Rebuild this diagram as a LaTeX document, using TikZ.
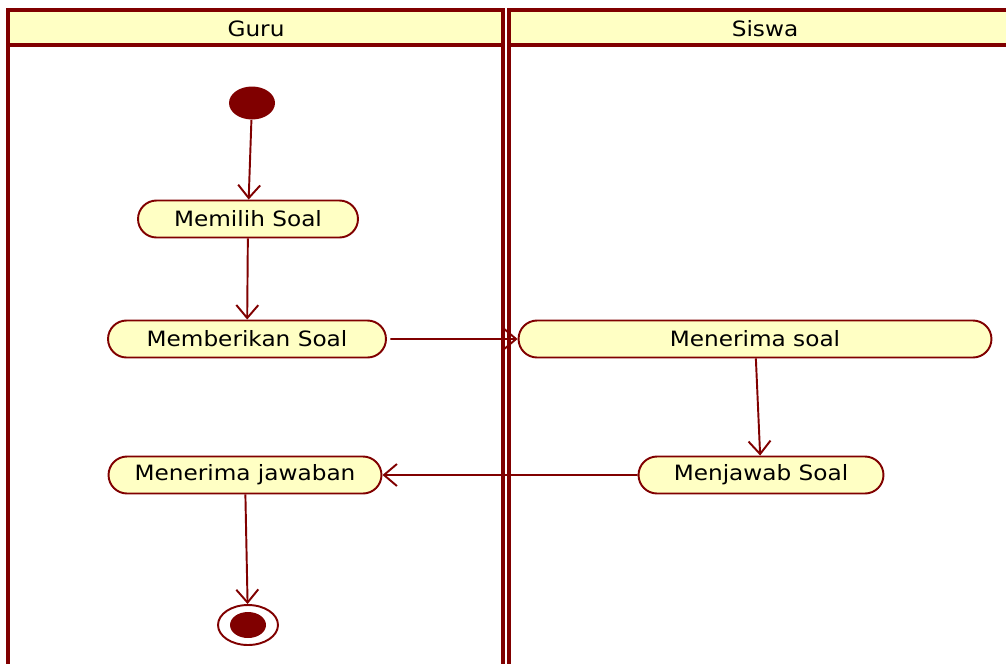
\documentclass[tikz,border=0pt]{standalone}
\usepackage{fontspec}
\setmainfont{DejaVu Sans}[FakeStretch=1.1]
\usepackage{tikz}
\usetikzlibrary{
	arrows.meta,
	shapes.misc,
	shapes.geometric,
}
\definecolor{umlred}{HTML}{800000}
\definecolor{umlfill}{HTML}{FFFFC4}
\tikzset{action/.style={draw=umlred,fill=umlfill,rounded rectangle,line width=1.1pt,minimum height=0.74cm,inner sep=0pt,font=\fontsize{12}{14}\selectfont,}}
\tikzset{initial/.style={ellipse,fill=umlred,minimum width=0.92cm,minimum height=0.66cm,inner sep=0pt,}}
\tikzset{finalring/.style={ellipse,draw=umlred,fill=white,line width=1.1pt,minimum width=1.2cm,minimum height=0.8cm,inner sep=0pt,}}
\tikzset{finaldot/.style={ellipse,fill=umlred,minimum width=0.72cm,minimum height=0.52cm,inner sep=0pt,}}
\tikzset{flow/.style={draw=umlred,line width=1.1pt,-{Straight Barb[length=0.26cm,width=0.44cm,line width=1.1pt]}}}
\tikzset{lane/.style={draw=umlred,line width=2.8pt}}
\tikzset{lanehead/.style={font=\fontsize{12}{14}\selectfont}}

\begin{document}
\begin{tikzpicture}[x=0.02cm,y=-0.02cm]
\useasboundingbox (0,0) rectangle (1006,663);

% swimlanes
\fill[umlfill] (8,10) rectangle (503,45);
\fill[umlfill] (509,10) rectangle (1012,45);
\draw[lane] (8,700) -- (8,10) -- (503,10) -- (503,700);
\draw[lane] (509,700) -- (509,10) -- (1012,10);
\draw[lane] (8,45) -- (503,45);
\draw[lane] (509,45) -- (1012,45);
\node[lanehead](guru) at(256,29) {Guru};
\node[lanehead](siswa) at(765,29) {Siswa};

% activities
\node[initial](start) at(252,103) {};
\node[action,minimum width=4.4cm](pilih) at(248,219) {Memilih Soal};
\node[action,minimum width=5.56cm](beri) at(247,339) {Memberikan Soal};
\node[action,minimum width=9.46cm](terima) at(755,339) {Menerima soal};
\node[action,minimum width=4.9cm](jawab) at(761,475) {Menjawab Soal};
\node[action,minimum width=5.46cm](hasil) at(245,475) {Menerima jawaban};
\node[finalring](stop) at(248,625) {};
\node[finaldot](stopdot) at(stop) {};

\draw[flow] (start) -- (pilih);
\draw[flow] (pilih) -- (beri);
\draw[flow,shorten <=2pt] (beri) -- (terima);
\draw[flow] (terima) -- (jawab);
\draw[flow] (jawab) -- (hasil);
\draw[flow] (hasil) -- (stop);

\end{tikzpicture}
\end{document}
